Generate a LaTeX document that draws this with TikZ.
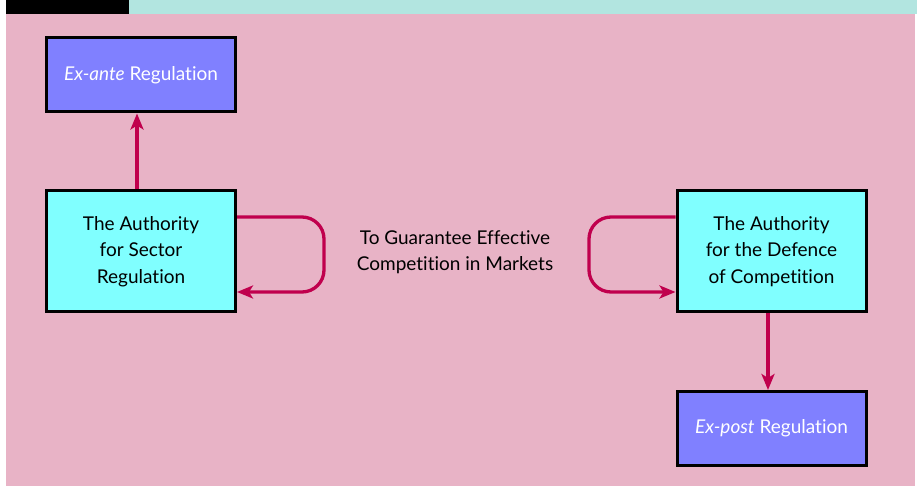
\documentclass[tikz,border=0pt]{standalone}
\usepackage{fontspec}
\setmainfont{Lato}[RawFeature={-liga;-dlig}]
\usetikzlibrary{arrows.meta}
\definecolor{bgpink}{HTML}{E8B3C6}
\definecolor{bandcyan}{HTML}{B2E5E0}
\definecolor{boxblue}{HTML}{8080FF}
\definecolor{boxcyan}{HTML}{80FFFF}
\definecolor{arrowred}{HTML}{C0004D}
\tikzset{
  regbox/.style={draw=black, line width=3pt, fill=boxblue, text=white, minimum width=189pt, minimum height=74pt, inner sep=0pt, font=\fontsize{19}{22}\selectfont},
  authbox/.style={draw=black, line width=3pt, fill=boxcyan, text=black, minimum width=189pt, minimum height=121pt, inner sep=0pt, align=center, font=\fontsize{19}{26.5}\selectfont},
  conn/.style={draw=arrowred, line width=3.3pt, -{Stealth[length=16pt,width=13pt,inset=4pt]}},
  loopconn/.style={conn, rounded corners=22pt}
}
\begin{document}
\begin{tikzpicture}[x=1pt,y=-1pt]
\useasboundingbox (0,0) rectangle (919,486);
\fill[white] (0,0) rectangle (919,486);
\fill[bgpink] (6,14) rectangle (915,486);
\fill[black] (6,0) rectangle (129,14);
\fill[bandcyan] (129,0) rectangle (917,14);

\node[regbox] (exante) at (141,75) {\textit{Ex-ante} Regulation};
\node[authbox] (authl) at (141,251.5) {The Authority\\for Sector\\Regulation};
\node[authbox] (authr) at (771.5,251.5) {The Authority\\for the Defence\\of Competition};
\node[regbox] (expost) at (771.5,428.5) {\textit{Ex-post} Regulation};
\node[font=\fontsize{19}{26.5}\selectfont, align=center] (mid) at (455,252) {To Guarantee Effective\\Competition in Markets};

\draw[conn] (authl.north -| 137,0) -- (exante.south -| 137,0);
\draw[conn] (authr.south -| 768,0) -- (expost.north -| 768,0);

\coordinate (l1) at (324,217);
\coordinate (l2) at (324,292);
\draw[loopconn] (authl.east |- 0,217) -- (l1) -- (l2) -- (authl.east |- 0,292);
\coordinate (r1) at (589,217);
\coordinate (r2) at (589,292);
\draw[loopconn] (authr.west |- 0,217) -- (r1) -- (r2) -- (authr.west |- 0,292);
\end{tikzpicture}
\end{document}
